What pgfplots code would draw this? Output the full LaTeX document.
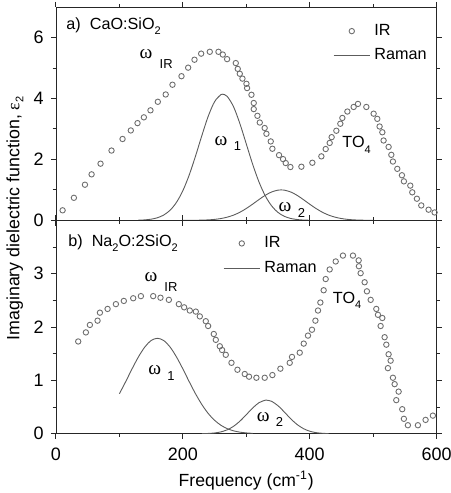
\documentclass[border=0pt]{standalone}
\usepackage{pgfplots}
\pgfplotsset{compat=1.18}
\usepackage{fontspec}
\setmainfont{Liberation Sans}
\newfontfamily\grk{Liberation Serif}

\definecolor{mk}{HTML}{6E6E6E}
\definecolor{ln}{HTML}{5C5C5C}

% subscript lowered by #1
\newcommand{\sub}[2][2.4pt]{\raisebox{-#1}{\fontsize{5.5}{6}\selectfont #2}}
% omega with a spaced, lowered index
\newcommand{\om}[3]{{\grk\fontsize{9.7}{10}\selectfont ω}\hspace{#2}\raisebox{-#3}{\fontsize{6.5}{7}\selectfont #1}}

\pgfplotsset{
  panel/.style={
    scale only axis, width=190.5pt, height=106.8pt,
    xmin=0, xmax=600,
    xtick={0,200,400,600}, minor xtick={100,300,500},
    tick align=outside, major tick length=2.6pt, minor tick length=1.6pt,
    axis line style={black!85}, every tick/.style={black!85, line width=0.45pt},
    tick label style={font=\fontsize{9}{10}\selectfont},
    /pgf/number format/assume math mode=true,
    xticklabel shift=1pt,
    legend style={draw=none, fill=none, font=\fontsize{8.1}{9}\selectfont,
      row sep=1.2pt, inner sep=1pt},
    legend cell align=left,
    legend image code/.code={\draw[mark repeat=2,mark phase=2,#1]
      plot coordinates {(0cm,0cm) (0.32cm,0cm) (0.64cm,0cm)};},
  },
  ir/.style={only marks, mark=o, mark size=1.35pt, mark options={mk, line width=0.45pt}},
  raman/.style={no marks, ln, line width=0.45pt, smooth},
}

\begin{document}
\begin{tikzpicture}
\begin{axis}[panel, name=top,
  ymin=0, ymax=7, ytick={0,2,4,6}, minor ytick={1,3,5},
  xticklabels={},
  legend style={at={(rel axis cs:0.722,0.95)}, anchor=north west}]
\addplot[ir] coordinates {
(10.5,0.33)(28.3,0.74)(45.7,1.17)(56.2,1.51)(70.3,1.86)(87.6,2.29)(105,2.67)(118,2.95)
(128.6,3.19)(138.6,3.38)(149,3.61)(160.6,3.89)(173,4.13)(183.7,4.45)(197.9,4.73)(208.4,5.01)
(218.4,5.27)(228.9,5.47)(242.5,5.53)(256.2,5.53)(263,5.44)(269.8,5.29)(283.5,5.16)(286.6,4.97)
(289.8,4.81)(294,4.65)(300.3,4.48)(301.3,4.34)(308.2,4.12)(311.8,3.85)(311.8,3.65)(317.6,3.43)
(321.3,3.21)(329,3.03)(331.8,2.84)(338.6,2.59)(341.2,2.35)(351.7,2.14)(358,2.01)(362.2,1.88)
(369.6,1.75)(386.9,1.76)(404.2,1.89)(418.4,2.10)(425.2,2.34)(431.5,2.54)(434.6,2.73)(442,2.94)
(448.3,3.17)(451.5,3.36)(459.4,3.57)(469.3,3.72)(476.1,3.82)(489.3,3.72)(500.8,3.50)(506.6,3.33)
(510.2,3.08)(514.5,2.89)(516.5,2.62)(524.4,2.41)(528.7,2.15)(531.2,1.93)(538.1,1.69)(545.4,1.48)
(548.5,1.28)(558.6,1.14)(561.7,0.92)(569,0.71)(575.9,0.49)(587.4,0.35)(596.9,0.26)};
\addlegendentry{IR}
\addplot[raman] coordinates {
(130,0.006)(140,0.016)(150,0.039)(160,0.086)(170,0.176)(180,0.334)(190,0.591)(200,0.971)
(210,1.484)(220,2.107)(230,2.781)(240,3.413)(250,3.892)(260,4.126)(263,4.14)(270,4.067)
(280,3.726)(290,3.172)(300,2.511)(310,1.847)(320,1.263)(330,0.803)(340,0.475)(350,0.261)
(360,0.133)(370,0.063)(380,0.028)(390,0.011)(400,0.004)};
\addlegendentry{Raman}
\addplot[raman, forget plot] coordinates {
(200,0.001)(210,0.0014)(220,0.0034)(230,0.0076)(240,0.016)(250,0.032)(260,0.060)(270,0.105)
(280,0.172)(290,0.267)(300,0.389)(310,0.531)(320,0.682)(330,0.823)(340,0.932)(350,0.992)
(355,1.0)(360,0.992)(370,0.932)(380,0.823)(390,0.682)(400,0.531)(410,0.389)(420,0.267)
(430,0.172)(440,0.105)(450,0.060)(460,0.032)(470,0.016)(480,0.0076)(490,0.0034)(500,0.0014)};
\node[anchor=west, font=\fontsize{8.1}{9}\selectfont, inner sep=0pt] at (axis cs:16,6.38)
  {a)\ \ CaO:SiO\sub{2}};
\node[inner sep=0pt] at (axis cs:158,5.30) {\om{IR}{3.6pt}{5pt}};
\node[inner sep=0pt] at (axis cs:271,2.52) {\om{1}{3.2pt}{2.6pt}};
\node[inner sep=0pt] at (axis cs:372,0.34) {\om{2}{3.2pt}{2.6pt}};
\node[inner sep=0pt, font=\fontsize{8.1}{9}\selectfont] at (axis cs:474,2.48) {TO\sub[2.6pt]{4}};
\end{axis}

\begin{axis}[panel, name=bot, at={(top.south west)}, anchor=north west,
  ymin=0, ymax=4, ytick={0,1,2,3}, minor ytick={0.5,1.5,2.5,3.5},
  legend style={at={(rel axis cs:0.433,0.955)}, anchor=north west}]
\addplot[ir] coordinates {
(35.1,1.73)(47.2,1.90)(53.5,2.04)(65.6,2.12)(69.3,2.27)(81.4,2.34)(94.5,2.43)(107,2.49)
(121.8,2.54)(133.9,2.58)(153.3,2.58)(164.8,2.55)(178,2.51)(193.7,2.43)(202.1,2.37)(211,2.31)
(220.5,2.29)(226.8,2.20)(236.2,2.11)(239.9,2.02)(248.8,1.87)(252,1.76)(258.3,1.64)(261.9,1.57)
(267.7,1.48)(276.7,1.33)(286.1,1.20)(297.6,1.12)(304.4,1.07)(316,1.05)(329.1,1.05)(341.2,1.10)
(353.8,1.22)(368.5,1.33)(372.1,1.44)(384.3,1.52)(390.6,1.69)(397.3,1.84)(403.6,1.95)(409,2.12)
(413.1,2.31)(416.8,2.46)(422,2.69)(425.2,2.90)(431.5,3.08)(441,3.23)(452.4,3.34)(468.2,3.34)
(477.2,3.25)(477.6,3.14)(480.3,3.01)(486.6,2.84)(490.2,2.67)(496.1,2.51)(505,2.34)(507.6,2.23)
(514.5,2.17)(511.8,2.02)(518.1,1.81)(520.8,1.67)(524.4,1.49)(527.6,1.37)(523.3,1.23)(531.2,1.05)
(533.9,0.93)(540.2,0.79)(536.5,0.63)(545.9,0.46)(548.5,0.28)(554.8,0.16)(570.6,0.16)(582.7,0.26)
(594.2,0.34)};
\addlegendentry{IR}
\addplot[raman] coordinates {
(100,0.750)(110,0.978)(120,1.217)(130,1.440)(140,1.625)(150,1.747)(160,1.79)(170,1.747)
(180,1.625)(190,1.440)(200,1.217)(210,0.978)(220,0.750)(230,0.548)(240,0.381)(250,0.253)
(260,0.160)(270,0.096)(280,0.055)(290,0.030)(300,0.016)(310,0.008)};
\addlegendentry{Raman}
\addplot[raman, forget plot] coordinates {
(230,0.002)(240,0.006)(250,0.015)(260,0.035)(270,0.074)(280,0.140)(290,0.236)(300,0.357)
(310,0.481)(320,0.582)(330,0.629)(332,0.63)(340,0.608)(350,0.526)(360,0.408)(370,0.282)
(380,0.175)(390,0.097)(400,0.048)(410,0.021)(420,0.009)(430,0.003)};
\node[anchor=west, font=\fontsize{8.1}{9}\selectfont, inner sep=0pt] at (axis cs:19,3.57)
  {b)\ \ Na\sub{2}O:2SiO\sub{2}};
\node[anchor=west, inner sep=0pt] at (axis cs:139,2.85) {\om{IR}{3.6pt}{5pt}};
\node[anchor=west, inner sep=0pt] at (axis cs:145,1.14) {\om{1}{3.2pt}{2.6pt}};
\node[anchor=west, inner sep=0pt] at (axis cs:316,0.27) {\om{2}{3.2pt}{2.6pt}};
\node[anchor=west, inner sep=0pt, font=\fontsize{8.1}{9}\selectfont] at (axis cs:436,2.50) {TO\sub[2.6pt]{4}};
\end{axis}

\node[rotate=90, font=\fontsize{8.9}{10}\selectfont] at ([xshift=-20.5pt,yshift=1pt]top.south west)
  {Imaginary dielectric function, {\grk ε}\sub[2pt]{2}};
\node[font=\fontsize{8.8}{10}\selectfont] at ([yshift=-23.5pt]bot.south)
  {Frequency (cm\textsuperscript{-1})};

\pgfresetboundingbox
\path[use as bounding box] ([xshift=-28pt,yshift=3.5pt]top.north west)
  rectangle ([xshift=7pt,yshift=-29.65pt]bot.south east);
\end{tikzpicture}
\end{document}
